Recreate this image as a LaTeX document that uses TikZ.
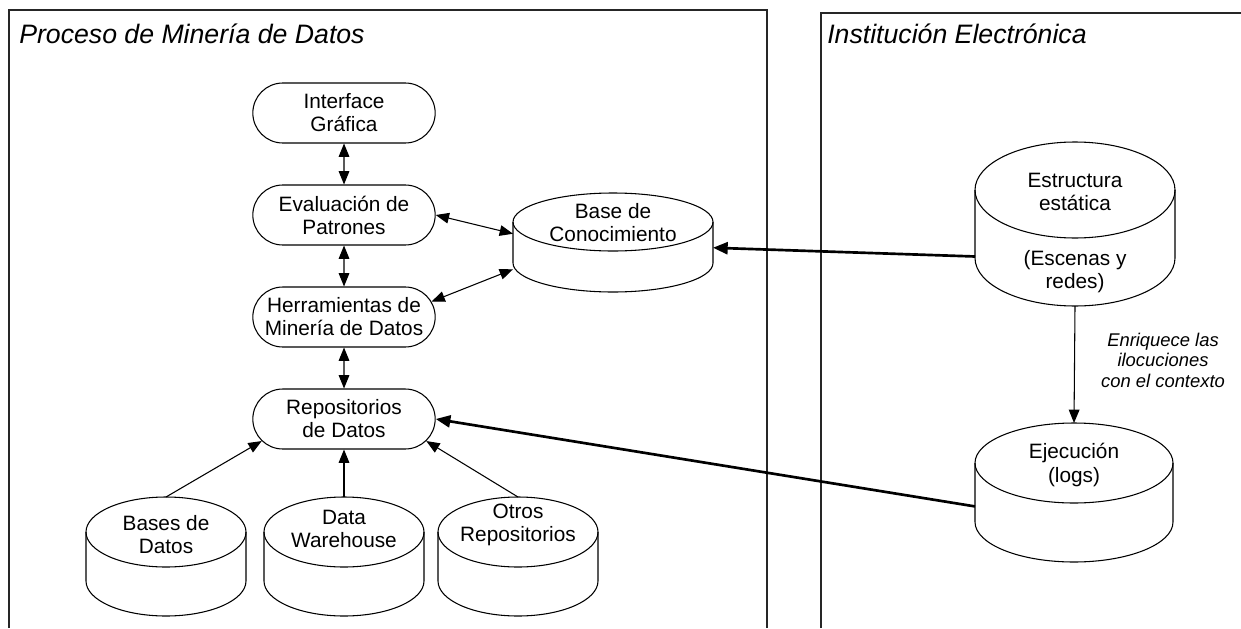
\documentclass[tikz,border=0pt]{standalone}
\usepackage{fontspec}
\setmainfont{Liberation Sans}
\usetikzlibrary{arrows.meta,shapes.misc,fit}
\newcommand\dbcyl[6]{% name, cx, cy (top ellipse centre), rx, ry, body height
  \draw[cylline] (#2,#3) ellipse [x radius=#4, y radius=#5];
  \draw[cylline] (#2-#4,#3) -- (#2-#4,#3-#6) arc[start angle=180,end angle=360,x radius=#4,y radius=#5] -- (#2+#4,#3);
  \node[fit={(#2-#4,#3+#5) (#2+#4,#3-#6-#5)}, inner sep=0pt, outer sep=0pt] (#1) {};
}
\begin{document}
\begin{tikzpicture}[x=0.75pt,y=0.75pt,
  panel/.style={line width=1pt, draw=black!85},
  cylline/.style={line width=0.8pt},
  pill/.style={rounded rectangle, draw, line width=0.8pt, minimum width=138.75pt, minimum height=45pt,
    align=center, inner sep=1pt, font=\fontsize{15.6pt}{17.3pt}\selectfont},
  cyltext/.style={align=center, inner sep=1pt, font=\fontsize{15.6pt}{17.3pt}\selectfont},
  ttl/.style={inner sep=0pt, font=\fontsize{20pt}{22pt}\selectfont\itshape},
  lbl/.style={align=center, inner sep=1pt, font=\fontsize{13.8pt}{15.4pt}\selectfont\itshape},
  arr/.style={line width=0.8pt, -{Triangle[length=10pt,width=8pt]}},
  darr/.style={line width=0.8pt, {Triangle[length=10pt,width=8pt]}-{Triangle[length=10pt,width=8pt]}},
  tarr/.style={line width=2pt, -{Triangle[length=11pt,width=9pt]}}
]
\useasboundingbox (0,0) rectangle (1241,-628);

% panels
\draw[panel] (9,-628) -- (9,-10) -- (767,-10) -- (767,-628);
\draw[panel] (821,-628) -- (821,-13) -- (1241,-13);
\node[ttl, anchor=west] (t1) at (19,-34) {Proceso de Minería de Datos};
\node[ttl, anchor=west] (t2) at (827,-34) {Institución Electrónica};

% process nodes
\node[pill] (ig)   at (344,-113) {Interface\\Gráfica};
\node[pill] (eval) at (344,-215) {Evaluación de\\Patrones};
\node[pill] (herr) at (344,-317) {Herramientas de\\Minería de Datos};
\node[pill] (rep)  at (344,-419) {Repositorios\\de Datos};

% cylinders
\dbcyl{kb}{613}{-222}{100}{29}{41}
\node[cyltext] (kbt) at (613,-223) {Base de\\Conocimiento};
\dbcyl{bd}{166}{-532}{80}{35}{49}
\node[cyltext] (bdt) at (166,-535) {Bases de\\Datos};
\dbcyl{dw}{344}{-532}{80}{35}{49}
\node[cyltext] (dwt) at (344,-529) {Data\\Warehouse};
\dbcyl{ot}{518}{-532}{80}{35}{49}
\node[cyltext] (ott) at (518,-525) {Otros\\Repositorios};
\dbcyl{est}{1075}{-190}{100}{48}{68}
\node[cyltext] (estt1) at (1075,-192) {Estructura\\estática};
\node[cyltext] (estt2) at (1075,-272) {(Escenas y\\redes)};
\dbcyl{ej}{1074}{-463}{99}{40}{59}
\node[cyltext] (ejt) at (1074,-465) {Ejecución\\(logs)};

% connectors
\draw[darr] (ig) -- (eval);
\draw[darr] (eval) -- (herr);
\draw[darr] (herr) -- (rep);
\draw[darr] (eval.east) -- (kb.175);
\draw[darr] (herr.10) -- (kb.195);
\draw[arr] (bd.north) -- (rep.195);
\draw[arr] (dw.north) -- (rep.south);
\draw[arr] (ot.north) -- (rep.-15);
\draw[tarr] (est.198) -- (kb.357);
\draw[tarr] (ej.188) -- (rep.east);
\draw[arr] (est.south) -- (ej.north);
\node[lbl] (enr) at (1163,-360) {Enriquece las\\ilocuciones\\con el contexto};
\end{tikzpicture}
\end{document}
